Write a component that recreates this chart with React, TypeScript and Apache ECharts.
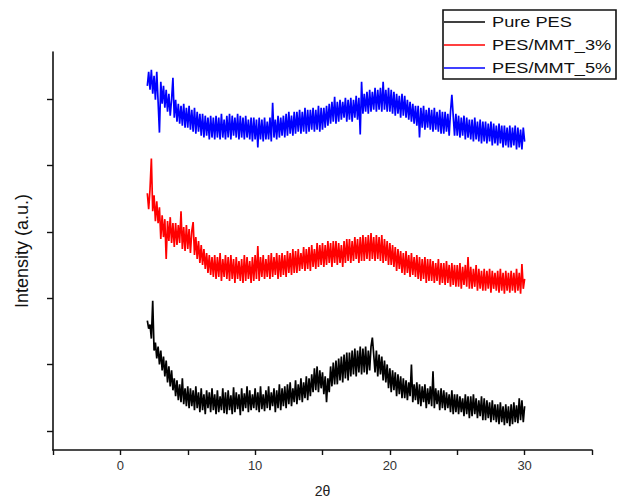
import React, { useEffect, useRef } from "react";
import * as echarts from "echarts";

// 2θ sampling grid of the recorded patterns
const ANGLE_START = 2;
const ANGLE_STEP = 0.1;

// Intensities (arbitrary units), one value per 0.1° from 2.0° to 30.0°
// (each row covers one degree)
const PURE_PES = [
  130, 122, 126, 112, 150, 100, 108, 92, 104, 86,
  100, 80, 94, 74, 90, 68, 84, 64, 80, 60,
  72, 54, 70, 50, 66, 48, 72, 46, 62, 44,
  64, 42, 62, 44, 60, 40, 64, 42, 58, 38,
  62, 40, 56, 36, 60, 42, 58, 38, 62, 40,
  56, 36, 60, 38, 54, 40, 62, 37, 58, 36,
  60, 40, 55, 36, 63, 38, 58, 41, 56, 35,
  62, 39, 57, 42, 64, 38, 60, 40, 56, 42,
  62, 40, 58, 38, 64, 41, 56, 39, 60, 42,
  64, 40, 58, 44, 62, 38, 60, 42, 66, 40,
  62, 44, 64, 42, 66, 46, 68, 44, 62, 48,
  70, 46, 66, 50, 72, 48, 68, 52, 74, 50,
  72, 54, 76, 58, 82, 60, 84, 58, 80, 62,
  78, 56, 74, 48, 72, 58, 84, 64, 88, 66,
  90, 66, 92, 70, 94, 68, 96, 72, 98, 70,
  98, 74, 100, 76, 102, 74, 100, 78, 104, 76,
  102, 78, 104, 76, 100, 80, 104, 113, 96, 78,
  100, 74, 96, 76, 94, 70, 90, 68, 86, 62,
  82, 58, 80, 60, 78, 54, 76, 56, 74, 52,
  72, 52, 70, 50, 68, 54, 86, 48, 66, 50,
  68, 46, 66, 44, 64, 48, 66, 42, 62, 46,
  64, 44, 79, 42, 62, 46, 60, 40, 62, 42,
  60, 40, 58, 42, 56, 38, 60, 36, 56, 38,
  56, 36, 54, 38, 52, 34, 56, 36, 54, 32,
  54, 34, 56, 36, 52, 32, 50, 34, 54, 30,
  52, 30, 50, 32, 48, 28, 50, 30, 46, 28,
  46, 26, 48, 28, 44, 25, 46, 27, 44, 24,
  46, 26, 48, 28, 45, 27, 52, 30, 50, 28,
  44,
];

const PES_MMT_3 = [
  258, 242, 262, 293, 240, 256, 230, 250, 228, 244,
  212, 236, 214, 232, 192, 230, 210, 234, 208, 228,
  204, 228, 206, 226, 208, 240, 202, 224, 200, 226,
  202, 222, 198, 220, 229, 196, 214, 192, 210, 188,
  206, 186, 202, 182, 198, 178, 196, 176, 194, 174,
  196, 172, 194, 174, 198, 170, 192, 174, 196, 172,
  194, 170, 196, 172, 192, 168, 194, 172, 190, 170,
  192, 168, 196, 170, 194, 172, 190, 168, 194, 170,
  196, 172, 205, 170, 194, 174, 196, 172, 192, 174,
  196, 172, 198, 174, 194, 176, 198, 172, 196, 174,
  198, 176, 196, 174, 200, 178, 198, 176, 202, 178,
  200, 178, 202, 180, 198, 182, 204, 180, 202, 182,
  204, 180, 206, 184, 202, 182, 208, 184, 206, 186,
  208, 184, 206, 186, 210, 188, 208, 184, 210, 188,
  210, 186, 208, 188, 206, 184, 210, 188, 212, 190,
  212, 188, 210, 190, 214, 192, 212, 188, 214, 190,
  216, 190, 214, 192, 216, 190, 218, 192, 214, 190,
  216, 192, 214, 190, 216, 188, 212, 190, 210, 186,
  208, 186, 206, 184, 204, 180, 202, 182, 200, 178,
  198, 176, 200, 178, 196, 174, 198, 176, 194, 174,
  196, 172, 194, 170, 192, 172, 194, 168, 192, 170,
  192, 170, 190, 168, 188, 170, 192, 166, 188, 168,
  188, 166, 190, 168, 186, 164, 188, 166, 186, 164,
  186, 164, 188, 162, 184, 166, 186, 164, 194, 162,
  184, 162, 182, 164, 186, 160, 182, 162, 180, 160,
  182, 160, 180, 162, 182, 158, 180, 162, 178, 160,
  180, 158, 182, 160, 178, 157, 180, 160, 178, 158,
  180, 160, 178, 158, 182, 160, 178, 157, 187, 162,
  172,
];

const PES_MMT_5 = [
  366, 380, 362, 382, 358, 376, 352, 380, 350, 319,
  370, 348, 366, 344, 362, 340, 358, 336, 352, 374,
  334, 352, 330, 348, 328, 346, 326, 348, 324, 344,
  324, 346, 322, 342, 320, 344, 318, 340, 320, 338,
  316, 338, 314, 336, 316, 334, 312, 336, 314, 334,
  312, 336, 314, 334, 312, 338, 314, 332, 312, 336,
  314, 338, 312, 336, 316, 334, 314, 338, 312, 336,
  314, 334, 312, 336, 314, 332, 312, 334, 310, 334,
  312, 332, 304, 334, 312, 332, 310, 334, 312, 330,
  312, 334, 310, 349, 314, 332, 312, 336, 314, 334,
  316, 336, 314, 338, 316, 340, 318, 336, 316, 340,
  318, 340, 320, 342, 318, 340, 320, 344, 318, 342,
  320, 342, 322, 344, 320, 342, 322, 346, 320, 344,
  322, 344, 324, 346, 326, 348, 328, 350, 330, 355,
  328, 350, 330, 352, 332, 350, 334, 354, 330, 352,
  332, 354, 330, 352, 334, 356, 332, 354, 317, 370,
  338, 358, 340, 360, 338, 362, 340, 360, 342, 364,
  340, 362, 342, 364, 340, 370, 342, 362, 340, 364,
  340, 362, 338, 360, 336, 358, 338, 356, 334, 358,
  336, 356, 334, 352, 332, 350, 330, 348, 328, 346,
  326, 346, 314, 344, 324, 346, 322, 342, 324, 344,
  322, 342, 320, 344, 322, 340, 320, 342, 318, 340,
  318, 340, 320, 338, 316, 340, 357, 336, 316, 338,
  316, 336, 314, 334, 316, 336, 312, 334, 314, 332,
  312, 332, 310, 334, 312, 330, 310, 332, 308, 330,
  310, 330, 308, 328, 310, 330, 306, 328, 308, 326,
  306, 328, 308, 326, 304, 326, 306, 324, 304, 326,
  304, 324, 306, 326, 302, 324, 304, 322, 302, 324,
  310,
];

const SERIES_NAMES = ["Pure PES", "PES/MMT_3%", "PES/MMT_5%"];
const SERIES_COLORS = ["#000000", "#ff0000", "#0000ff"];
const X_LABELS = [0, 10, 20, 30];
const Y_TICKS = [19, 86, 153, 219, 286, 353];

const toPairs = (vals: number[]) =>
  vals.map((v, i) => [Number((ANGLE_START + i * ANGLE_STEP).toFixed(1)), v]);

export default function App() {
  const ref = useRef<HTMLDivElement>(null);

  useEffect(() => {
    document.body.style.margin = "0";
    if (!ref.current) return;
    const chart = echarts.init(ref.current, null, { renderer: "svg" });
    const allData = [PURE_PES, PES_MMT_3, PES_MMT_5];
    const font = "Liberation Sans, Arial, sans-serif";

    const legendRows = [22, 45, 68];
    const legendGraphics: any[] = [
      {
        type: "rect",
        shape: { x: 443, y: 10, width: 173, height: 69 },
        style: { fill: "#fff", stroke: "#111", lineWidth: 1.6 },
        z: 10,
      },
    ];
    SERIES_NAMES.forEach((name, i) => {
      legendGraphics.push({
        type: "line",
        shape: { x1: 444, y1: legendRows[i], x2: 485, y2: legendRows[i] },
        style: { stroke: SERIES_COLORS[i], lineWidth: 1.6 },
        z: 11,
      });
      legendGraphics.push({
        type: "text",
        x: 492,
        y: legendRows[i],
        scaleX: 1.3,
        style: {
          text: name,
          fill: "#111",
          font: `14px ${font}`,
          textAlign: "left",
          textVerticalAlign: "middle",
        },
        z: 11,
      });
    });

    chart.setOption({
      animation: false,
      backgroundColor: "#fff",
      grid: { left: 53, right: 26, top: 52, bottom: 51, containLabel: false },
      xAxis: {
        type: "value",
        min: -5,
        max: 35,
        interval: 5,
        name: "2θ",
        nameLocation: "middle",
        nameGap: 34,
        nameTextStyle: { fontFamily: font, fontSize: 14, color: "#222" },
        axisLine: { show: true, onZero: false, lineStyle: { color: "#111", width: 1.6 } },
        axisTick: { show: true, inside: false, length: 5, lineStyle: { color: "#111", width: 1.4 } },
        axisLabel: {
          show: true,
          margin: 9,
          fontFamily: font,
          fontSize: 13,
          color: "#333",
          showMinLabel: true,
          showMaxLabel: true,
          formatter: (v: number) => (X_LABELS.includes(v) ? String(v) : ""),
        },
        splitLine: { show: false },
      },
      yAxis: {
        type: "value",
        min: 0,
        max: 400,
        name: "Intensity (a.u.)",
        nameLocation: "middle",
        nameGap: 22,
        nameTextStyle: { fontFamily: font, fontSize: 18, color: "#111" },
        axisLine: { show: true, onZero: false, lineStyle: { color: "#111", width: 1.6 } },
        axisTick: {
          show: true,
          inside: false,
          length: 6,
          customValues: Y_TICKS,
          lineStyle: { color: "#111", width: 1.4 },
        },
        axisLabel: { show: false },
        splitLine: { show: false },
      },
      series: SERIES_NAMES.map((name, i) => ({
        name,
        type: "line",
        data: toPairs(allData[i]),
        showSymbol: false,
        symbol: "none",
        lineStyle: { color: SERIES_COLORS[i], width: 1.7 },
        itemStyle: { color: SERIES_COLORS[i] },
      })),
      graphic: legendGraphics,
    });

    return () => chart.dispose();
  }, []);

  return <div ref={ref} style={{ width: 618, height: 503 }} />;
}
